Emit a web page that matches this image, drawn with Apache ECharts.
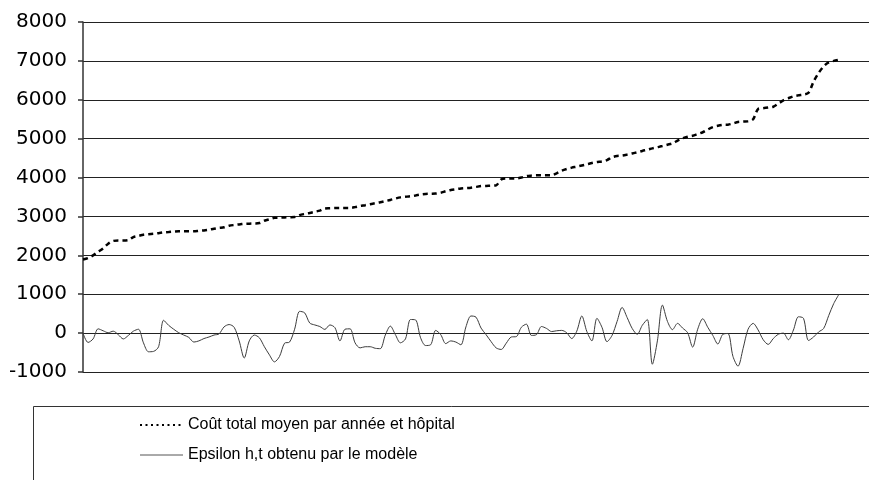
<!DOCTYPE html>
<html>
<head>
<meta charset="utf-8">
<script src="https://cdn.jsdelivr.net/npm/echarts@6/dist/echarts.min.js"></script>
<style>
  html, body { margin: 0; padding: 0; background: #fff; }
  #chart { width: 869px; height: 480px; }
</style>
</head>
<body>
<div id="chart"></div>
<script>
// Series names as shown in the legend
const seriesNames = [
  'Coût total moyen par année et hôpital',
  'Epsilon h,t obtenu par le modèle'
];

// Y axis bounds and step
const yMin = -1000;
const yMax = 8000;
const yStep = 1000;

// Mean total cost per year and hospital, observations sorted by cost
const coutTotal = [
  1895, 1930, 2000, 2090, 2180, 2300, 2370, 2380, 2380, 2390,
  2470, 2500, 2530, 2545, 2555, 2570, 2590, 2600, 2610, 2620,
  2620, 2620, 2620, 2630, 2640, 2660, 2685, 2705, 2720, 2760,
  2780, 2795, 2810, 2815, 2820, 2830, 2890, 2930, 2965, 2970,
  2975, 2980, 2985, 3035, 3065, 3090, 3120, 3150, 3205, 3210,
  3215, 3220, 3220, 3220, 3240, 3270, 3290, 3315, 3340, 3365,
  3395, 3425, 3460, 3490, 3505, 3520, 3540, 3565, 3580, 3585,
  3590, 3610, 3650, 3680, 3700, 3720, 3730, 3740, 3760, 3780,
  3785, 3790, 3800, 3950, 3975, 3975, 3975, 4000, 4035, 4050,
  4060, 4060, 4060, 4060, 4110, 4175, 4220, 4255, 4280, 4310,
  4340, 4375, 4400, 4415, 4450, 4520, 4555, 4565, 4590, 4620,
  4650, 4685, 4715, 4750, 4780, 4810, 4845, 4880, 4950, 5010,
  5050, 5075, 5120, 5165, 5235, 5295, 5330, 5355, 5360, 5390,
  5430, 5440, 5445, 5500, 5765, 5785, 5800, 5820, 5900, 5985,
  6040, 6090, 6115, 6135, 6180, 6470, 6690, 6860, 6960, 7000,
  7030
];

// Model residuals (epsilon h,t) for the same observations
const epsilon = [
     0, -240, -150,  110,   60,   10,   50,  -40, -150,  -60,
    50,  100, -250, -480, -470, -350,  330,  200,  100,   10,
   -50, -110, -230, -200, -140, -100,  -50,  -20,  160,  220,
   150, -200, -640, -200,  -50, -120, -350, -560, -740, -600,
  -260, -230,  100,  560,  520,  260,  210,  170,   95,  210,
   140, -200,  100,  110, -250, -380, -350, -350, -390, -400,
   -50,  180,  -40, -250, -150,  350,  340, -120, -320, -300,
    70,  -40, -270, -200, -230, -300,  160,  440,  410,  130,
   -40, -220, -380, -420, -260, -100,  -90,  150,  230,  -60,
   -40,  170,  120,   40,   60,   70,   10, -140,   50,  440,
    40, -200,  380,  150, -220,  -60,  300,  660,  400,  120,
   -30,  200,  350, -800, -200,  720,  300,   90,  250,  130,
    10, -360,  100,  370,  150,  -60, -280,  -30,  -10, -600,
  -850, -400,  100,  250,   80, -170, -290, -140,  -30,    0,
  -170,   80,  420,  380, -190, -100,   30,  120,  450,  760,
   990
];

const toPairs = arr => arr.map((v, i) => [i, v]);

const chart = echarts.init(document.getElementById('chart'), null, { renderer: 'canvas' });

chart.setOption({
  backgroundColor: '#ffffff',
  animation: false,
  grid: { left: 83, right: 0, top: 22, bottom: 108, containLabel: false },
  xAxis: {
    type: 'value',
    min: 0,
    max: 156,
    show: false
  },
  yAxis: {
    type: 'value',
    min: yMin,
    max: yMax,
    interval: yStep,
    axisLine: { show: true, lineStyle: { color: '#333', width: 1.5 } },
    axisTick: { show: true, length: 5, lineStyle: { color: '#333', width: 1.5 } },
    axisLabel: {
      margin: 16,
      color: '#000',
      fontSize: 20,
      fontFamily: "'DejaVu Sans', sans-serif",
      formatter: v => String(v)
    },
    splitLine: { show: true, lineStyle: { color: '#222', width: 1 } }
  },
  legend: {
    orient: 'vertical',
    left: 134,
    top: 412,
    itemWidth: 43,
    itemHeight: 14,
    itemGap: 14,
    textStyle: { fontSize: 16, color: '#000', fontFamily: "'Liberation Sans', Arial, sans-serif" },
    data: [
      {
        name: seriesNames[0],
        itemStyle: { opacity: 0 },
        lineStyle: { type: [2, 3.5], width: 2, color: '#000' }
      },
      {
        name: seriesNames[1],
        itemStyle: { opacity: 0 },
        lineStyle: { type: 'solid', width: 1, color: '#555' }
      }
    ]
  },
  graphic: [
    {
      type: 'rect',
      silent: true,
      z: -1,
      shape: { x: 33.5, y: 406.5, width: 900, height: 120 },
      style: { fill: 'none', stroke: '#333', lineWidth: 1 }
    }
  ],
  series: [
    {
      name: seriesNames[0],
      type: 'line',
      data: toPairs(coutTotal),
      smooth: 0.3,
      symbol: 'none',
      lineStyle: { color: '#000', width: 2.5, type: [5, 4] },
      itemStyle: { color: '#000' },
      z: 3
    },
    {
      name: seriesNames[1],
      type: 'line',
      data: toPairs(epsilon),
      smooth: 0.3,
      symbol: 'none',
      lineStyle: { color: '#3c3c3c', width: 1 },
      itemStyle: { color: '#3c3c3c' },
      z: 2
    }
  ]
});
</script>
</body>
</html>
